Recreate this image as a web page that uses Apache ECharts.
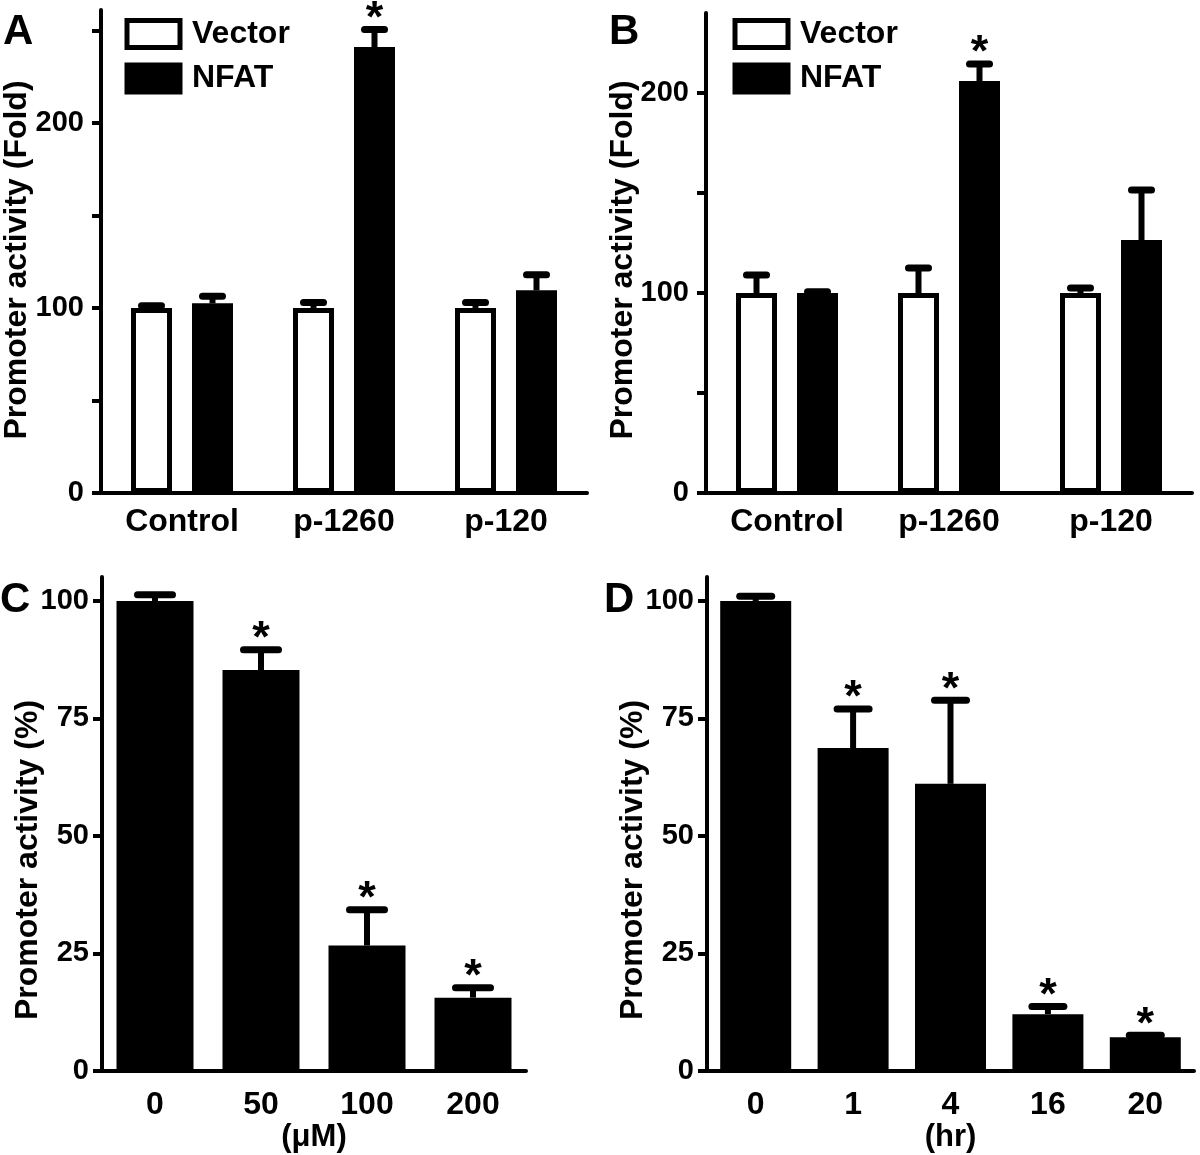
<!DOCTYPE html>
<html>
<head>
<meta charset="utf-8">
<script src="https://cdn.jsdelivr.net/npm/echarts@6/dist/echarts.min.js"></script>
<style>
html, body { margin: 0; padding: 0; background: #fff; }
#chart { width: 1200px; height: 1155px; }
</style>
</head>
<body>
<div id="chart"></div>
<script>
// A / B : promoter constructs, vector vs NFAT (fold)
var groupsAB = ['Control', 'p-1260', 'p-120'];

var vecA = [100, 100, 100];
var vecAErr = [1.2, 3, 3];
var nfatA = [102.5, 241, 109.5];
var nfatAErr = [3.8, 9.5, 8.5];
var nfatASig = [0, 1, 0];

var vecB = [100, 100, 100];
var vecBErr = [9, 12.5, 2.5];
var nfatB = [100, 206, 126.5];
var nfatBErr = [0.6, 8.5, 25];
var nfatBSig = [0, 1, 0];

// C : dose (uM), percent
var doseC = ['0', '50', '100', '200'];
var actC = [100, 85.3, 26.7, 15.6];
var actCErr = [1.3, 4.3, 7.6, 2.1];
var sigC = [0, 1, 1, 1];

// D : time (hr), percent
var timeD = ['0', '1', '4', '16', '20'];
var actD = [100, 68.7, 61.1, 12.1, 7.2];
var actDErr = [1, 8.3, 17.8, 1.6, 0.4];
var sigD = [0, 1, 1, 1, 1];

// y ticks / labels
var ticksA = [0, 50, 100, 150, 200, 250];
var labelsA = [0, 100, 200];
var ticksB = [0, 50, 100, 150, 200];
var labelsB = [0, 100, 200];
var ticksCD = [0, 25, 50, 75, 100];

var FONT = '"Liberation Sans", Arial, sans-serif';
var barW = 41;      // grouped bars (plus 5px border)
var barGapPx = 20;
var off = (barW + barGapPx) / 2;

function errData(vals, errs, sigs) {
  return vals.map(function (v, i) {
    return [i, v, errs[i], sigs ? sigs[i] : 0];
  });
}

function errRender(offset, capHalf) {
  return function (params, api) {
    var i = api.value(0), v = api.value(1), e = api.value(2), s = api.value(3);
    var base = api.coord([i, v]);
    var top = api.coord([i, v + e]);
    var x = base[0] + offset;
    var kids = [
      { type: 'line', shape: { x1: x, y1: base[1], x2: x, y2: top[1] },
        style: { stroke: '#000', lineWidth: 6 } },
      { type: 'line', shape: { x1: x - capHalf, y1: top[1], x2: x + capHalf, y2: top[1] },
        style: { stroke: '#000', lineWidth: 7, lineCap: 'round' } }
    ];
    if (s) {
      kids.push({ type: 'text', style: { text: '*', x: x, y: top[1] - 10, align: 'center',
        verticalAlign: 'middle', fontSize: 45, fontWeight: 'bold', fontFamily: FONT, fill: '#000' } });
    }
    return { type: 'group', children: kids };
  };
}

function errSeries(name, gi, data, offset, capHalf) {
  return {
    name: name, type: 'custom', xAxisIndex: gi, yAxisIndex: gi, z: 5, silent: true,
    renderItem: errRender(offset, capHalf), data: data, encode: { x: 0, y: 1 }
  };
}

function xAxisCfg(gi, cats, margin, name) {
  return {
    type: 'category', gridIndex: gi, data: cats,
    axisLine: { lineStyle: { color: '#000', width: 4 } },
    axisTick: { show: false },
    axisLabel: { interval: 0, margin: margin, color: '#000', fontSize: 32, fontWeight: 'bold', fontFamily: FONT },
    name: name || '', nameLocation: 'middle', nameGap: 50,
    nameTextStyle: { color: '#000', fontSize: 31, fontWeight: 'bold', fontFamily: FONT }
  };
}

function yAxisCfg(gi, max, ticks, labels, margin) {
  return {
    type: 'value', gridIndex: gi, min: 0, max: max,
    axisLine: { show: true, lineStyle: { color: '#000', width: 4 } },
    axisTick: { show: true, length: 9, customValues: ticks, lineStyle: { color: '#000', width: 4 } },
    axisLabel: { customValues: labels, margin: margin, color: '#000', fontSize: 29, fontWeight: 'bold', fontFamily: FONT },
    splitLine: { show: false }
  };
}

var vecStyle = { color: '#fff', borderColor: '#000', borderWidth: 5 };
var nfatStyle = { color: '#000', borderColor: '#000', borderWidth: 5 };

function legendCfg(left) {
  return {
    left: left, top: 18, orient: 'vertical', padding: 0, icon: 'rect',
    itemWidth: 53, itemHeight: 27, itemGap: 12.5, selectedMode: false,
    textStyle: { fontSize: 32, fontWeight: 'bold', color: '#000', fontFamily: FONT, lineHeight: 32, padding: [0, 0, 0, 7] },
    data: [{ name: 'Vector', itemStyle: vecStyle }, { name: 'NFAT', itemStyle: nfatStyle }]
  };
}

function label(text, x, y, size, rot) {
  return {
    type: 'text', x: x, y: y, rotation: rot || 0,
    style: { text: text, fontSize: size, fontWeight: 'bold', fontFamily: FONT, fill: '#000',
      align: rot ? 'center' : 'left', verticalAlign: 'middle' }
  };
}

var chart = echarts.init(document.getElementById('chart'));
chart.setOption({
  backgroundColor: '#fff',
  animation: false,
  textStyle: { fontFamily: FONT },
  grid: [
    { left: 101, top: 10, width: 486, height: 483 },
    { left: 706, top: 13, width: 486, height: 480 },
    { left: 102, top: 577, width: 424, height: 494 },
    { left: 707, top: 577, width: 487, height: 494 }
  ],
  xAxis: [
    xAxisCfg(0, groupsAB, 13),
    xAxisCfg(1, groupsAB, 13),
    xAxisCfg(2, doseC, 18, '(\u03bcM)'),
    xAxisCfg(3, timeD, 18, '(hr)')
  ],
  yAxis: [
    yAxisCfg(0, 261, ticksA, labelsA, 17),
    yAxisCfg(1, 240, ticksB, labelsB, 17),
    yAxisCfg(2, 105.1, ticksCD, ticksCD, 13),
    yAxisCfg(3, 105.1, ticksCD, ticksCD, 13)
  ],
  legend: [legendCfg(124.5), legendCfg(732.5)],
  graphic: [
    label('A', 3, 32, 42),
    label('B', 609, 32, 42),
    label('C', 0, 600, 42),
    label('D', 604, 600, 42),
    label('Promoter activity (Fold)', 17, 260, 32, Math.PI / 2),
    label('Promoter activity (Fold)', 623, 260, 32, Math.PI / 2),
    label('Promoter activity (%)', 28, 860, 32, Math.PI / 2),
    label('Promoter activity (%)', 633, 860, 32, Math.PI / 2)
  ],
  series: [
    { name: 'Vector', type: 'bar', xAxisIndex: 0, yAxisIndex: 0, barWidth: barW, barGap: (barGapPx / barW * 100) + '%',
      itemStyle: vecStyle, data: vecA },
    { name: 'NFAT', type: 'bar', xAxisIndex: 0, yAxisIndex: 0, barWidth: barW, barGap: (barGapPx / barW * 100) + '%',
      itemStyle: nfatStyle, data: nfatA },
    errSeries('errVecA', 0, errData(vecA, vecAErr), -off, 10),
    errSeries('errNfatA', 0, errData(nfatA, nfatAErr, nfatASig), off, 10),

    { name: 'Vector', type: 'bar', xAxisIndex: 1, yAxisIndex: 1, barWidth: barW, barGap: (barGapPx / barW * 100) + '%',
      itemStyle: vecStyle, data: vecB },
    { name: 'NFAT', type: 'bar', xAxisIndex: 1, yAxisIndex: 1, barWidth: barW, barGap: (barGapPx / barW * 100) + '%',
      itemStyle: nfatStyle, data: nfatB },
    errSeries('errVecB', 1, errData(vecB, vecBErr), -off, 10),
    errSeries('errNfatB', 1, errData(nfatB, nfatBErr, nfatBSig), off, 10),

    { name: 'dose', type: 'bar', xAxisIndex: 2, yAxisIndex: 2, barWidth: 77,
      itemStyle: { color: '#000' }, data: actC },
    errSeries('errC', 2, errData(actC, actCErr, sigC), 0, 17.5),

    { name: 'time', type: 'bar', xAxisIndex: 3, yAxisIndex: 3, barWidth: 71,
      itemStyle: { color: '#000' }, data: actD },
    errSeries('errD', 3, errData(actD, actDErr, sigD), 0, 16)
  ]
});
</script>
</body>
</html>
